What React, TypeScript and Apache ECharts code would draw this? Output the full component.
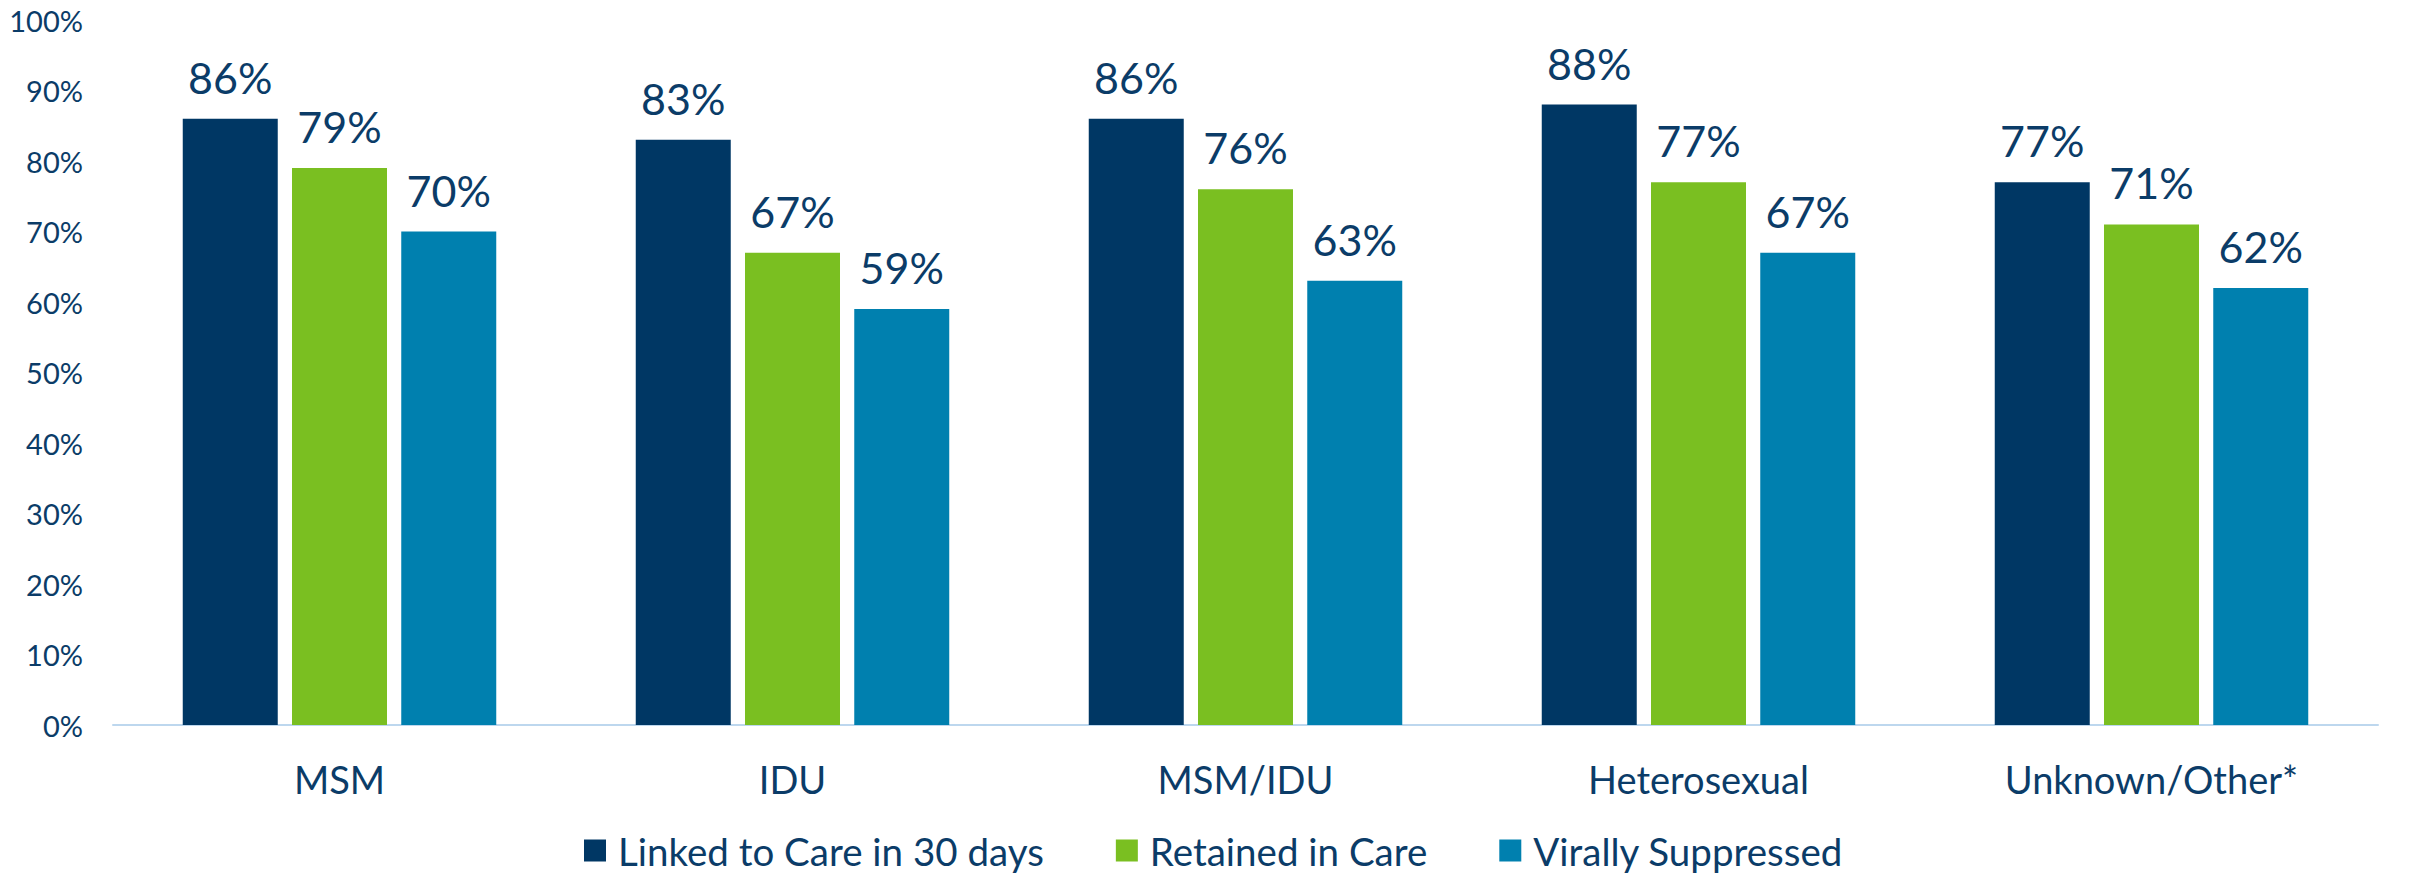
import React, { useEffect, useRef } from "react";
import * as echarts from "echarts";

const categories = ["MSM", "IDU", "MSM/IDU", "Heterosexual", "Unknown/Other*"];
const seriesNames = ["Linked to Care in 30 days", "Retained in Care", "Virally Suppressed"];
const linked = [86, 83, 86, 88, 77];
const retained = [79, 67, 76, 77, 71];
const suppressed = [70, 59, 63, 67, 62];
const yTicks = [0, 10, 20, 30, 40, 50, 60, 70, 80, 90, 100];

const colors = ["#003764", "#7ABF21", "#0080AF"];
const textColor = "#0B3C68";
const font = "Lato, 'Open Sans', sans-serif";

export default function App() {
  const ref = useRef<HTMLDivElement>(null);
  useEffect(() => {
    if (!ref.current) return;
    const chart = echarts.init(ref.current, undefined, { renderer: "svg" });
    const values = [linked, retained, suppressed];
    chart.setOption({
      animation: false,
      textStyle: { fontFamily: font },
      grid: { left: 113, right: 35, top: 20, bottom: 150, containLabel: false },
      legend: {
        left: 579,
        top: 826,
        itemWidth: 22,
        itemHeight: 22,
        itemGap: 72,
        icon: "rect",
        textStyle: { fontSize: 38.5, color: textColor, fontFamily: font, padding: [0, 0, 0, 7] },
        data: seriesNames,
      },
      xAxis: {
        type: "category",
        data: categories,
        axisLine: { show: true, lineStyle: { color: "#BDD7EE", width: 2 } },
        axisTick: { show: false },
        axisLabel: { fontSize: 38, color: textColor, margin: 35, fontFamily: font },
      },
      yAxis: {
        type: "value",
        min: yTicks[0],
        max: yTicks[yTicks.length - 1],
        interval: 10,
        splitLine: { show: false },
        axisLine: { show: false },
        axisTick: { show: false },
        axisLabel: { fontSize: 29, color: textColor, margin: 30, formatter: "{value}%", fontFamily: font },
      },
      series: seriesNames.map((name, i) => ({
        name,
        type: "bar",
        data: values[i],
        barWidth: 95,
        barGap: "15%",
        itemStyle: { color: colors[i] },
        label: {
          show: true,
          position: "top",
          distance: 20,
          formatter: "{c}%",
          fontSize: 43,
          color: textColor,
          fontFamily: font,
        },
      })),
    });
    return () => chart.dispose();
  }, []);
  return (
    <div
      ref={ref}
      style={{ position: "absolute", left: 0, top: 0, width: 2413, height: 875 }}
    />
  );
}
